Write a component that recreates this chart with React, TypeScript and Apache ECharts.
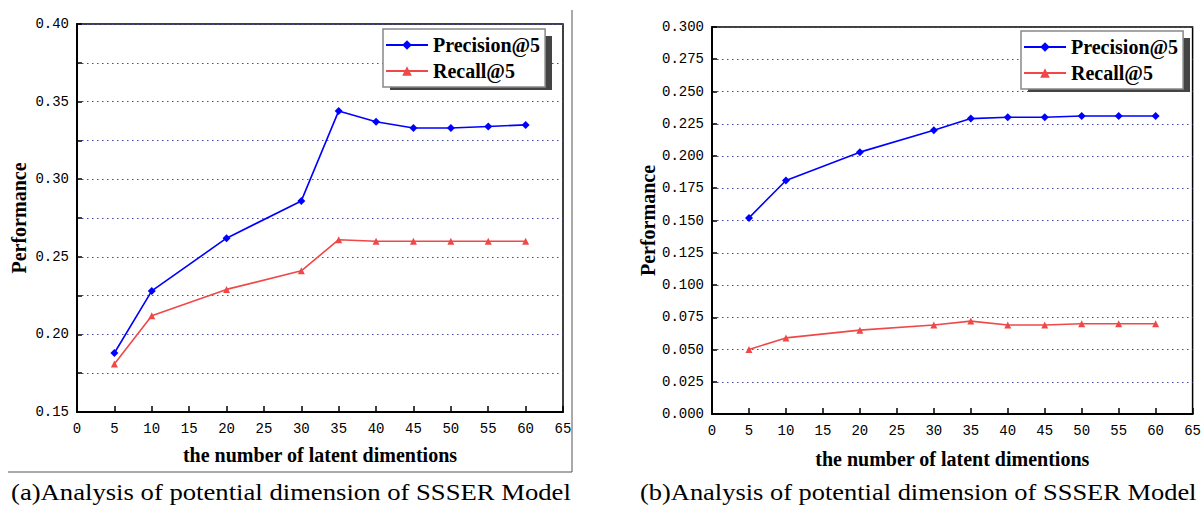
import React, { useEffect, useRef } from "react";
import * as echarts from "echarts";

const dims = [5, 10, 20, 30, 35, 40, 45, 50, 55, 60];
const precisionA = [0.188, 0.228, 0.262, 0.286, 0.344, 0.337, 0.333, 0.333, 0.334, 0.335];
const recallA = [0.181, 0.212, 0.229, 0.241, 0.261, 0.26, 0.26, 0.26, 0.26, 0.26];
const precisionB = [0.152, 0.181, 0.203, 0.22, 0.229, 0.23, 0.23, 0.231, 0.231, 0.231];
const recallB = [0.05, 0.059, 0.065, 0.069, 0.072, 0.069, 0.069, 0.07, 0.07, 0.07];
const seriesNames = ["Precision@5", "Recall@5"];
const captions = [
  "(a)Analysis of potential dimension of SSSER Model",
  "(b)Analysis of potential dimension of SSSER Model",
];
const xName = "the number of latent dimentions";
const yName = "Performance";

const pairs = (vals: number[]) => dims.map((d, i) => [d, vals[i]]);

const BLUE = "#0000ff";
const RED = "#f04848";
const LABEL_FONT = "Liberation Mono";
const SERIF = "Liberation Serif";

export default function App() {
  const ref = useRef<HTMLDivElement>(null);
  useEffect(() => {
    if (!ref.current) return;
    const chart = echarts.init(ref.current, undefined, { renderer: "svg" });

    const grids = [
      { left: 77, top: 24, width: 486, height: 388 },
      { left: 712, top: 27, width: 481, height: 387 },
    ];

    const xAxisBase = (gi: number) => ({
      type: "value",
      gridIndex: gi,
      min: 0,
      max: 65,
      interval: 5,
      name: xName,
      nameLocation: "middle",
      nameGap: gi === 0 ? 33 : 35,
      nameTextStyle: { fontFamily: SERIF, fontWeight: "bold", fontSize: 20, color: "#000" },
      axisLine: { show: true, onZero: false, lineStyle: { color: "#000", width: 2 } },
      axisTick: { show: true, inside: true, length: 6, lineStyle: { color: "#000", width: 1.5 } },
      axisLabel: { fontFamily: LABEL_FONT, fontSize: 14, color: "#000", margin: 10 },
      splitLine: { show: false },
    });

    const dotted = { color: "#4848a8", width: 1.2, type: [1.5, 3.5] };

    const yAxes = [
      {
        type: "value",
        gridIndex: 0,
        min: 0.15,
        max: 0.4,
        interval: 0.025,
        name: yName,
        nameLocation: "middle",
        nameRotate: 90,
        nameGap: 48,
        nameTextStyle: { fontFamily: SERIF, fontWeight: "bold", fontSize: 20, color: "#000" },
        axisLine: { show: true, onZero: false, lineStyle: { color: "#000", width: 2 } },
        axisTick: { show: true, inside: true, length: 5, lineStyle: { color: "#000", width: 1.5 } },
        axisLabel: {
          fontFamily: LABEL_FONT,
          fontSize: 14,
          color: "#000",
          margin: 8,
          formatter: (v: number) => (Math.round(v * 1000) % 50 === 0 ? v.toFixed(2) : ""),
        },
        splitLine: { show: true, lineStyle: dotted },
      },
      {
        type: "value",
        gridIndex: 1,
        min: 0,
        max: 0.3,
        interval: 0.025,
        name: yName,
        nameLocation: "middle",
        nameRotate: 90,
        nameGap: 54,
        nameTextStyle: { fontFamily: SERIF, fontWeight: "bold", fontSize: 20, color: "#000" },
        axisLine: { show: true, onZero: false, lineStyle: { color: "#000", width: 2 } },
        axisTick: { show: true, inside: true, length: 5, lineStyle: { color: "#000", width: 1.5 } },
        axisLabel: {
          fontFamily: LABEL_FONT,
          fontSize: 14,
          color: "#000",
          margin: 8,
          formatter: (v: number) => v.toFixed(3),
        },
        splitLine: { show: true, lineStyle: dotted },
      },
    ];

    const mkSeries = (name: string, vals: number[], gi: number, isPrec: boolean) => ({
      type: "line",
      name,
      xAxisIndex: gi,
      yAxisIndex: gi,
      data: pairs(vals),
      symbol: isPrec ? "diamond" : "triangle",
      symbolSize: isPrec ? 8 : 7,
      itemStyle: { color: isPrec ? BLUE : RED },
      lineStyle: { color: isPrec ? BLUE : RED, width: 1.6 },
      z: isPrec ? 3 : 2,
    });

    const legendBase = (left: number, top: number) => ({
      orient: "vertical",
      left,
      top,
      z: 10,
      data: seriesNames,
      backgroundColor: "#fff",
      borderColor: "#888",
      borderWidth: 1.5,
      padding: [6, 5, 6, 2],
      itemGap: 6,
      itemWidth: 42,
      itemHeight: 12,
      textStyle: { fontFamily: SERIF, fontWeight: "bold", fontSize: 20, color: "#000" },
      selectedMode: false,
    });

    chart.setOption({
      animation: false,
      backgroundColor: "#fff",
      grid: grids.map((g) => ({ ...g, show: true, borderColor: "#000", borderWidth: 1.5, backgroundColor: "transparent" })),
      xAxis: [xAxisBase(0), xAxisBase(1)],
      yAxis: yAxes,
      legend: [legendBase(383, 29), legendBase(1021, 31)],
      series: [
        mkSeries(seriesNames[0], precisionA, 0, true),
        mkSeries(seriesNames[1], recallA, 0, false),
        mkSeries(seriesNames[0], precisionB, 1, true),
        mkSeries(seriesNames[1], recallB, 1, false),
      ],
      graphic: [
        { type: "rect", z: 5, shape: { x: 390, y: 36, width: 162, height: 54 }, style: { fill: "#444" } },
        { type: "rect", z: 5, shape: { x: 1028, y: 38, width: 162, height: 54 }, style: { fill: "#444" } },
        { type: "line", shape: { x1: 572, y1: 10, x2: 572, y2: 472 }, style: { stroke: "#555", lineWidth: 1 } },
        { type: "line", shape: { x1: 8, y1: 472, x2: 572, y2: 472 }, style: { stroke: "#555", lineWidth: 1 } },
        {
          type: "text",
          x: 11,
          y: 492,
          scaleX: 1.16,
          style: { text: captions[0], fontFamily: SERIF, fontSize: 23, fill: "#000", verticalAlign: "middle", textAlign: "left" },
        },
        {
          type: "text",
          x: 640,
          y: 492,
          scaleX: 1.15,
          style: { text: captions[1], fontFamily: SERIF, fontSize: 23, fill: "#000", verticalAlign: "middle", textAlign: "left" },
        },
      ],
    });

    return () => chart.dispose();
  }, []);

  return <div ref={ref} style={{ position: "absolute", left: 0, top: 0, width: 1204, height: 506 }} />;
}
